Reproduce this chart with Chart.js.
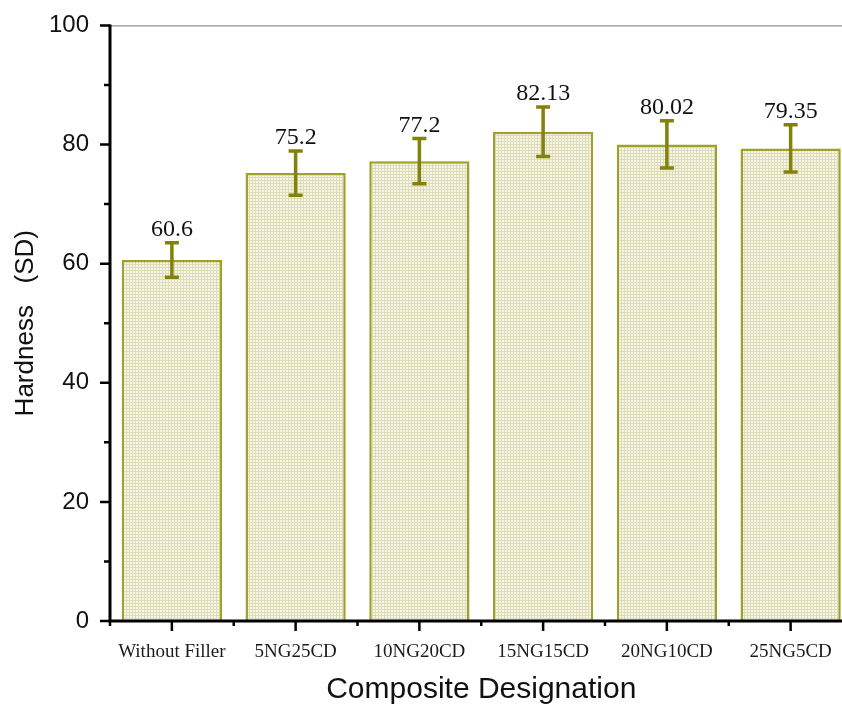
<!DOCTYPE html>
<html>
<head>
<meta charset="utf-8">
<title>Hardness</title>
<script src="https://cdn.jsdelivr.net/npm/chart.js@4.4.1/dist/chart.umd.min.js"></script>
</head>
<body style="margin:0;overflow:hidden;background:#fff">
<canvas id="hardnessChart" width="856" height="705"></canvas>
<script>
var categories = ["Without Filler", "5NG25CD", "10NG20CD", "15NG15CD", "20NG10CD", "25NG5CD"];
var hardness = [60.6, 75.2, 77.2, 82.13, 80.02, 79.35];
var sdValues = [2.9, 3.7, 3.8, 4.15, 3.95, 3.95];

var barLine = "#a0a02c";
var errColor = "#82820a";

// light cream fill with a fine grid, like the original hatch
function gridFill() {
  var c = document.createElement("canvas");
  c.width = 3;
  c.height = 3;
  var g = c.getContext("2d");
  g.fillStyle = "#f6f6e6";
  g.fillRect(0, 0, 3, 3);
  g.fillStyle = "#dedcb8";
  g.fillRect(0, 0, 3, 1);
  g.fillRect(0, 0, 1, 3);
  return g.createPattern(c, "repeat");
}

var extras = {
  id: "extras",
  afterDatasetsDraw: function (chart) {
    var ctx = chart.ctx;
    var ys = chart.scales.y;
    var bars = chart.getDatasetMeta(0).data;
    ctx.save();
    ctx.strokeStyle = errColor;
    ctx.lineWidth = 3.5;
    bars.forEach(function (bar, i) {
      var top = ys.getPixelForValue(hardness[i] + sdValues[i]);
      var bot = ys.getPixelForValue(hardness[i] - sdValues[i]);
      ctx.beginPath();
      ctx.moveTo(bar.x, top);
      ctx.lineTo(bar.x, bot);
      ctx.moveTo(bar.x - 7, top);
      ctx.lineTo(bar.x + 7, top);
      ctx.moveTo(bar.x - 7, bot);
      ctx.lineTo(bar.x + 7, bot);
      ctx.stroke();
      ctx.fillStyle = "#111";
      ctx.font = "24px 'Liberation Serif'";
      ctx.textAlign = "center";
      ctx.textBaseline = "alphabetic";
      ctx.fillText(String(hardness[i]), bar.x, top - 7);
    });
    ctx.restore();
  },
  afterDraw: function (chart) {
    var ctx = chart.ctx;
    var a = chart.chartArea;
    var xs = chart.scales.x;
    var ys = chart.scales.y;
    ctx.save();
    // thin top frame line
    ctx.strokeStyle = "#777";
    ctx.lineWidth = 1;
    ctx.beginPath();
    ctx.moveTo(a.left, a.top + 0.5);
    ctx.lineTo(chart.width, a.top + 0.5);
    ctx.stroke();
    ctx.strokeStyle = "#000";
    ctx.lineWidth = 3;
    ctx.beginPath();
    ctx.moveTo(a.left, a.top - 1);
    ctx.lineTo(a.left, a.bottom + 1.5);
    ctx.moveTo(a.left - 1.5, a.bottom);
    ctx.lineTo(a.right, a.bottom);
    ctx.stroke();
    ctx.lineWidth = 2.5;
    ctx.beginPath();
    for (var v = 0; v <= 100; v += 10) {
      var py = ys.getPixelForValue(v);
      var len = v % 20 === 0 ? 10 : 6;
      ctx.moveTo(a.left - len, py);
      ctx.lineTo(a.left, py);
    }
    var half = (xs.getPixelForValue(1) - xs.getPixelForValue(0)) / 2;
    categories.forEach(function (c, i) {
      var px = xs.getPixelForValue(i);
      ctx.moveTo(px, a.bottom);
      ctx.lineTo(px, a.bottom + 10);
      ctx.moveTo(px - half, a.bottom);
      ctx.lineTo(px - half, a.bottom + 5);
    });
    ctx.stroke();
    ctx.restore();
  },
};

new Chart("hardnessChart", {
  type: "bar",
  data: {
    labels: categories,
    datasets: [
      {
        data: hardness,
        backgroundColor: gridFill(),
        borderColor: barLine,
        borderWidth: 2.5,
        barPercentage: 0.81,
        categoryPercentage: 1,
      },
    ],
  },
  options: {
    responsive: false,
    animation: false,
    devicePixelRatio: 1,
    layout: {
      padding: { top: 23, right: 3.5, left: 0, bottom: 0 },
    },
    plugins: {
      legend: { display: false },
      tooltip: { enabled: false },
    },
    scales: {
      x: {
        afterFit: function (s) {
          s.height = 84;
        },
        grid: { display: false, drawTicks: true, tickLength: 10 },
        border: { display: false },
        ticks: {
          color: "#1a1a1a",
          font: { family: "'Liberation Serif'", size: 19 },
          padding: 10,
          maxRotation: 0,
          autoSkip: false,
        },
        title: {
          display: true,
          text: "Composite Designation",
          color: "#111",
          font: { family: "'Liberation Sans'", size: 30, lineHeight: 1 },
          padding: 0,
        },
      },
      y: {
        min: 0,
        max: 100,
        afterFit: function (s) {
          s.width = 110;
        },
        grid: { display: false, drawTicks: true, tickLength: 10 },
        border: { display: false },
        ticks: {
          stepSize: 20,
          color: "#111",
          font: { family: "'Liberation Sans'", size: 24 },
          padding: 11,
        },
        title: {
          display: true,
          text: "Hardness   (SD)",
          color: "#111",
          font: { family: "'Liberation Sans'", size: 26, lineHeight: 1 },
          padding: 13,
        },
      },
    },
  },
  plugins: [extras],
});
</script>
</body>
</html>
